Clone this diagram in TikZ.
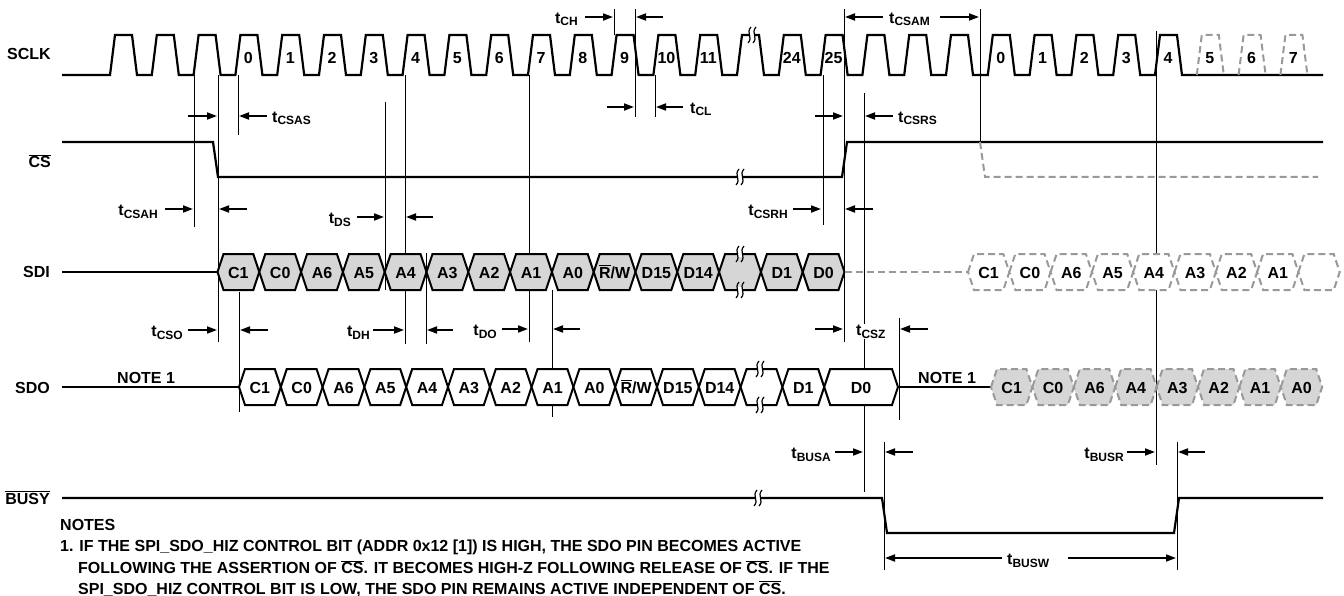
\documentclass[tikz,border=0pt]{standalone}
\usepackage{fontspec}
\setmainfont{Liberation Sans}
\usetikzlibrary{arrows.meta}
\newcommand\tl[1]{t\raisebox{-2.5pt}{\fontsize{12}{12}\selectfont #1}}
\newcommand\ovl[1]{\ensuremath{\overline{\hbox{#1}}}}
\newcommand\RW{\ovl{R}/W}
\definecolor{hexfill}{gray}{0.84}
\definecolor{dgray}{gray}{0.6}
\tikzset{
  brk/.pic={
    \fill[white] (-2.6,-2.6) rectangle (2.6,2.6);
    \draw[line width=1.2pt] (-1,-8) .. controls (-6.5,-2) and (1.5,2) .. (-4,8);
    \draw[line width=1.2pt] (4,-8) .. controls (-1.5,-2) and (6.5,2) .. (1,8);
  }
}
\begin{document}
\begin{tikzpicture}[x=1pt,y=-1pt,
  every node/.style={inner sep=0pt, font=\fontsize{16}{19}\selectfont\bfseries},
  sig/.style={line width=2.2pt, line join=miter},
  guide/.style={line width=1pt},
  dimarr/.style={line width=1.8pt, -{Triangle[length=10pt,width=7pt]}},
  hexs/.style={line width=2pt, line join=miter},
  dsh/.style={draw=dgray, line width=2pt, dash pattern=on 7pt off 4pt},
  tlab/.style={font=\fontsize{16}{19}\selectfont\bfseries}
]
\path[use as bounding box, fill=white] (0,0) rectangle (1344,596);

% guide lines
\foreach \x/\ya/\yb in {194/75/227, 218/75/342, 238/75/135, 239/292/412, 385/102/290,
  405/75/344, 426/253/344, 529/75/342, 552/290/417, 614/9/35, 635/9/117, 655/75/117,
  823/75/225, 844/9/342, 864/93/492, 899/318/420, 980/9/142, 1156/31/465,
  884/442/570, 1177/442/570}
  \draw[guide] (\x,\ya) -- (\x,\yb);

% left labels
\node[anchor=base east] (lsclk) at (51,60) {SCLK};
\node[anchor=base east] (lcs) at (51,168) {\ovl{CS}};
\node[anchor=base east] (lsdi) at (50,277) {SDI};
\node[anchor=base east] (lsdo) at (50,393) {SDO};
\node[anchor=base east] (lbusy) at (50,504) {\ovl{BUSY}};

% SCLK
\draw[sig] (62,75) foreach \k in {0,...,25}{ -- ({110+41.8*\k},75) -- ({115+41.8*\k},35) -- ({132+41.8*\k},35) -- ({137+41.8*\k},75) } -- (1323,75);
\foreach \k in {26,27,28}
  \draw[dsh] ({110+41.8*\k},75) -- ({115+41.8*\k},35) -- ({132+41.8*\k},35) -- ({137+41.8*\k},75);
\pic at (752,35) {brk};
\foreach \k/\t in {3/0,4/1,5/2,6/3,7/4,8/5,9/6,10/7,11/8,12/9,13/10,14/11,16/24,17/25,21/0,22/1,23/2,24/3,25/4,26/5,27/6,28/7}
  \node[anchor=base] (ck\k) at ({123+41.8*\k},64) {\t};

% CS
\draw[sig] (62,142) -- (213,142) -- (218,177) -- (842,177) -- (847,142) -- (1323,142);
\draw[dsh] (980,142) -- (985,177) -- (1318,177);
\pic at (740,177) {brk};

% SDI
\draw[sig] (62,272) -- (217.5,272);
\foreach \n/\t in {0/C1,1/C0,2/A6,3/A5,4/A4,5/A3,6/A2,7/A1,8/A0,9/\RW,10/D15,11/D14,12/{},13/D1,14/D0}{
  \pgfmathsetmacro\a{217.5+41.8*\n}
  \pgfmathsetmacro\b{\a+41.8}
  \draw[hexs, fill=hexfill] (\a,272) -- (\a+6,254) -- (\b-6,254) -- (\b,272) -- (\b-6,290) -- (\a+6,290) -- cycle;
  \node[anchor=base] (sdi\n) at ({(\a+\b)/2},278) {\t};
}
\pic at (740,254) {brk};
\pic at (740,290) {brk};
\draw[dsh] (844.5,272) -- (968,272);
\foreach \n/\t in {0/C1,1/C0,2/A6,3/A5,4/A4,5/A3,6/A2,7/A1,8/{}}{
  \pgfmathsetmacro\a{968+41.3*\n}
  \pgfmathsetmacro\b{\a+41.3}
  \draw[dsh, fill=white] (\a,272) -- (\a+6,254) -- (\b-6,254) -- (\b,272) -- (\b-6,290) -- (\a+6,290) -- cycle;
  \node[anchor=base] (sdid\n) at ({(\a+\b)/2},278) {\t};
}

% SDO
\draw[sig] (62,387) -- (239,387);
\node[anchor=base west] (note1a) at (117,383) {NOTE 1};
\foreach \n/\t in {0/C1,1/C0,2/A6,3/A5,4/A4,5/A3,6/A2,7/A1,8/A0,9/\RW,10/D15,11/D14,12/{},13/D1}{
  \pgfmathsetmacro\a{239+41.8*\n}
  \pgfmathsetmacro\b{\a+41.8}
  \draw[hexs, fill=white] (\a,387) -- (\a+6,369) -- (\b-6,369) -- (\b,387) -- (\b-6,405) -- (\a+6,405) -- cycle;
  \node[anchor=base] (sdo\n) at ({(\a+\b)/2},393) {\t};
}
\draw[hexs, fill=white] (824.2,387) -- (830.2,369) -- (892,369) -- (898,387) -- (892,405) -- (830.2,405) -- cycle;
\node[anchor=base] (sdo14) at (861,393) {D0};
\pic at (760,369) {brk};
\pic at (760,405) {brk};
\draw[sig] (898,387) -- (991,387);
\node[anchor=base west] (note1b) at (918,383) {NOTE 1};
\foreach \n/\t in {0/C1,1/C0,2/A6,3/A4,4/A3,5/A2,6/A1,7/A0}{
  \pgfmathsetmacro\a{991+41.4*\n}
  \pgfmathsetmacro\b{\a+41.4}
  \draw[dsh, fill=hexfill] (\a,387) -- (\a+6,369) -- (\b-6,369) -- (\b,387) -- (\b-6,405) -- (\a+6,405) -- cycle;
  \node[anchor=base] (sdod\n) at ({(\a+\b)/2},393) {\t};
}

% BUSY
\draw[sig] (62,498) -- (882,498) -- (887,533) -- (1174,533) -- (1179,498) -- (1323,498);
\pic at (758,498) {brk};

% dimension arrows
\foreach \xa/\xb/\y in {585/613/17, 663/636/17, 607/634/107, 683/656/107,
  188/217/116, 267/239/116, 165/193/209, 247/219/209, 357/384/217, 433/406/217,
  188/217/330, 268/240/330, 373/404/330, 453/427/330, 502/528/329, 580/553/329,
  793/821/209, 873/845/209, 815/843/329, 928/900/329, 815/843/116, 893/865/116,
  883/845/17, 940/979/17, 835/863/452, 913/885/452, 1127/1155/452, 1205/1178/452,
  1002/885/558, 1068/1176/558}
  \draw[dimarr] (\xa,\y) -- (\xb,\y);

% timing labels
\node[anchor=base east] (tch) at (578,23.5) {\tl{CH}};
\node[anchor=base west] (tcl) at (690,113.5) {\tl{CL}};
\node[anchor=base west] (tcsas) at (272,122.5) {\tl{CSAS}};
\node[anchor=base west] (tcsrs) at (898,122.5) {\tl{CSRS}};
\node[anchor=base west] (tcsam) at (889,23.5) {\tl{CSAM}};
\node[anchor=base east] (tcsah) at (158,215.5) {\tl{CSAH}};
\node[anchor=base east] (tds) at (351,223.5) {\tl{DS}};
\node[anchor=base east] (tcsrh) at (788,215.5) {\tl{CSRH}};
\node[anchor=base east] (tcso) at (183,336.5) {\tl{CSO}};
\node[anchor=base east] (tdh) at (370,336.5) {\tl{DH}};
\node[anchor=base east] (tdo) at (497,335.5) {\tl{DO}};
\node[anchor=base west, fill=white, inner sep=1pt] (tcsz) at (855,335.5) {\tl{CSZ}};
\node[anchor=base east] (tbusa) at (831,458.5) {\tl{BUSA}};
\node[anchor=base east] (tbusr) at (1124,458.5) {\tl{BUSR}};
\node[anchor=base west] (tbusw) at (1007,564.5) {\tl{BUSW}};

% notes
\node[anchor=base west] (notes) at (60,530) {NOTES};
\node[anchor=base west] (nl1) at (60,551.7) {1. IF THE SPI\_SDO\_HIZ CONTROL BIT (ADDR 0x12 [1]) IS HIGH, THE SDO PIN BECOMES ACTIVE};
\node[anchor=base west] (nl2) at (78,573.3) {FOLLOWING THE ASSERTION OF \ovl{CS}. IT BECOMES HIGH-Z FOLLOWING RELEASE OF \ovl{CS}. IF THE};
\node[anchor=base west] (nl3) at (78,594) {SPI\_SDO\_HIZ CONTROL BIT IS LOW, THE SDO PIN REMAINS ACTIVE INDEPENDENT OF \ovl{CS}.};
\end{tikzpicture}
\end{document}
